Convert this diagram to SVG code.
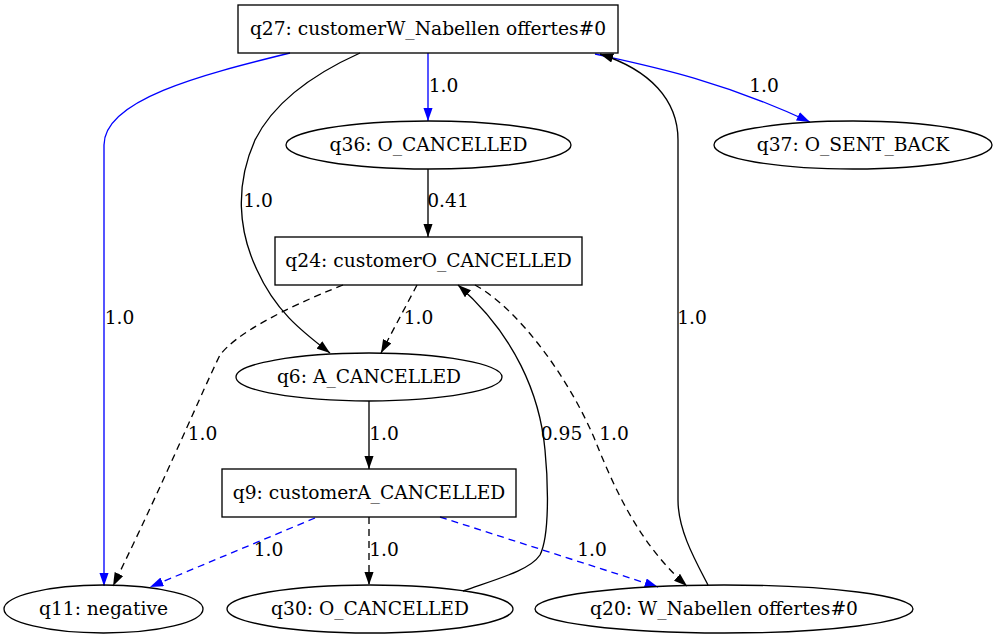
<svg xmlns="http://www.w3.org/2000/svg" width="997" height="639" viewBox="0 0 997 639">
<style>
.n{fill:none;stroke:#000;stroke-width:1.33}
.t{font-family:"DejaVu Serif",serif;font-size:18.67px;text-anchor:middle;fill:#000}
.e{fill:none;stroke:#000;stroke-width:1.33}
.b{stroke:#0000ff}
.d{stroke-dasharray:7,5}
</style>
<defs>
<marker id="ak" markerUnits="userSpaceOnUse" markerWidth="14" markerHeight="10" refX="13.3" refY="4.67" orient="auto"><path d="M0,0 L13.3,4.67 L0,9.33 z" fill="#000"/></marker>
<marker id="ab" markerUnits="userSpaceOnUse" markerWidth="14" markerHeight="10" refX="13.3" refY="4.67" orient="auto"><path d="M0,0 L13.3,4.67 L0,9.33 z" fill="#0000ff"/></marker>
</defs>
<rect width="997" height="639" fill="#fff"/>
<g id="edges">
<path class="e b" marker-end="url(#ab)" d="M290,53 C200,75 104,100 104,145 L104,586"/>
<text class="t" x="119.5" y="324">1.0</text>
<path class="e b" marker-end="url(#ab)" d="M428,53 L428,121"/>
<text class="t" x="443.5" y="92">1.0</text>
<path class="e b" marker-end="url(#ab)" d="M595,54 C650,66 720,80 810,122"/>
<text class="t" x="764" y="92">1.0</text>
<path class="e" marker-end="url(#ak)" d="M708,585 C695,560 678,530 678,500 L678,140 C678,100 650,70 600,54"/>
<text class="t" x="692" y="324">1.0</text>
<path class="e" marker-end="url(#ak)" d="M360,53 C300,80 270,110 255,140 C235,185 238,230 257,270 C275,310 300,330 330,353"/>
<text class="t" x="258" y="207">1.0</text>
<path class="e" marker-end="url(#ak)" d="M428,169 L428,237"/>
<text class="t" x="448" y="207">0.41</text>
<path class="e d" marker-end="url(#ak)" d="M417,285 L381,353"/>
<text class="t" x="418.5" y="324">1.0</text>
<path class="e d" marker-end="url(#ak)" d="M343,285 C280,310 235,335 220,355 C205,385 165,480 113,586"/>
<text class="t" x="202.5" y="440">1.0</text>
<path class="e d" marker-end="url(#ak)" d="M475,285 C520,310 570,380 595,440 C615,490 640,545 687,586"/>
<text class="t" x="614" y="440">1.0</text>
<path class="e" marker-end="url(#ak)" d="M463,591 C500,578 530,570 540,555 C550,535 548,480 545,450 C540,395 515,335 458,285"/>
<text class="t" x="561.5" y="440">0.95</text>
<path class="e" marker-end="url(#ak)" d="M369,401 L369,469"/>
<text class="t" x="384" y="440">1.0</text>
<path class="e b d" marker-end="url(#ab)" d="M315,518 L150,587"/>
<text class="t" x="268.5" y="556">1.0</text>
<path class="e d" marker-end="url(#ak)" d="M369,517 L369,585"/>
<text class="t" x="384" y="556">1.0</text>
<path class="e b d" marker-end="url(#ab)" d="M440,517 L658,587"/>
<text class="t" x="592" y="556">1.0</text>
</g>
<g id="q27"><rect class="n" x="238" y="5" width="380" height="48"/><text class="t" x="428" y="35">q27: customerW_Nabellen offertes#0</text></g>
<g id="q36"><ellipse class="n" cx="428.5" cy="145" rx="142.5" ry="24"/><text class="t" x="428.5" y="151">q36: O_CANCELLED</text></g>
<g id="q37"><ellipse class="n" cx="853" cy="145" rx="139" ry="24"/><text class="t" x="853" y="151">q37: O_SENT_BACK</text></g>
<g id="q24"><rect class="n" x="275" y="237" width="307" height="48"/><text class="t" x="428.5" y="267">q24: customerO_CANCELLED</text></g>
<g id="q6"><ellipse class="n" cx="369" cy="377" rx="133" ry="24"/><text class="t" x="369" y="383">q6: A_CANCELLED</text></g>
<g id="q9"><rect class="n" x="222" y="469" width="294" height="48"/><text class="t" x="369" y="499">q9: customerA_CANCELLED</text></g>
<g id="q11"><ellipse class="n" cx="103.5" cy="609" rx="99.5" ry="24"/><text class="t" x="103.5" y="615">q11: negative</text></g>
<g id="q30"><ellipse class="n" cx="370" cy="609" rx="143" ry="24"/><text class="t" x="370" y="615">q30: O_CANCELLED</text></g>
<g id="q20"><ellipse class="n" cx="724" cy="609" rx="189" ry="24"/><text class="t" x="724" y="615">q20: W_Nabellen offertes#0</text></g>
</svg>
